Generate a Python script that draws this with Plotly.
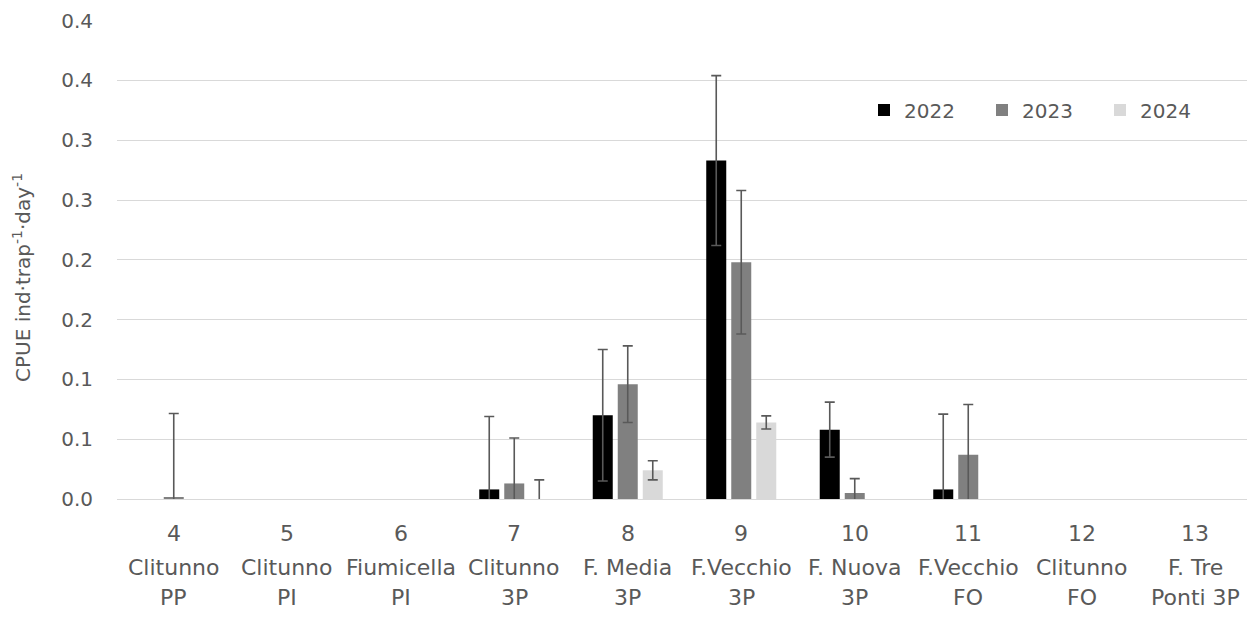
import plotly.graph_objects as go

# ---- data ----
site_numbers = ["4", "5", "6", "7", "8", "9", "10", "11", "12", "13"]
site_names = ["Clitunno", "Clitunno", "Fiumicella", "Clitunno", "F. Media",
              "F.Vecchio", "F. Nuova", "F.Vecchio", "Clitunno", "F. Tre"]
site_codes = ["PP", "PI", "PI", "3P", "3P", "3P", "3P", "FO", "FO", "Ponti 3P"]

years = ["2022", "2023", "2024"]
cpue_2022 = [None, None, None, 0.008, 0.070, 0.283, 0.058, 0.008, None, None]
err_2022 = [None, None, None, 0.061, 0.055, 0.071, 0.023, 0.063, None, None]
cpue_2023 = [0.0015, None, None, 0.013, 0.096, 0.198, 0.005, 0.037, None, None]
err_2023 = [0.070, None, None, 0.038, 0.032, 0.060, 0.012, 0.042, None, None]
cpue_2024 = [None, None, None, 0, 0.024, 0.064, None, None, None, None]
err_2024 = [None, None, None, 0.016, 0.008, 0.0055, None, None, None, None]

tick_values = [0, 0.05, 0.10, 0.15, 0.20, 0.25, 0.30, 0.35, 0.40]
tick_labels = ["0.0", "0.1", "0.1", "0.2", "0.2", "0.3", "0.3", "0.4", "0.4"]

y_title = "CPUE ind·trap<sup>-1</sup>·day<sup>-1</sup>"

# ---- styles ----
colors = ["#000000", "#808080", "#d9d9d9"]
text_color = "#595959"
font_family = "DejaVu Sans, Liberation Sans, Arial, sans-serif"

series_vals = [cpue_2022, cpue_2023, cpue_2024]
series_errs = [err_2022, err_2023, err_2024]

fig = go.Figure()
for name, vals, errs, col in zip(years, series_vals, series_errs, colors):
    fig.add_trace(go.Bar(
        x=site_numbers, y=vals, name=name,
        marker=dict(color=col, line=dict(width=0)),
        error_y=dict(type="data", array=errs, visible=True,
                     color=text_color, thickness=1.6, width=5),
    ))

# x labels as three rows under each category (x given as category index)
annots = []
for i, (num, nm, code) in enumerate(zip(site_numbers, site_names, site_codes)):
    for txt, shift in ((num, -34), (nm, -68), (code, -98)):
        annots.append(dict(x=i, xref="x", y=0, yref="paper", yshift=shift,
                           text=txt, showarrow=False, yanchor="middle",
                           xanchor="center",
                           font=dict(size=22, color=text_color, family=font_family)))
# y axis title
annots.append(dict(x=0, xref="paper", xshift=-95, y=(499 - 278) / 479, yref="paper",
                   text=y_title, textangle=-90, showarrow=False,
                   xanchor="center", yanchor="middle",
                   font=dict(size=20, color=text_color, family=font_family)))

fig.update_layout(
    width=1255, height=617,
    margin=dict(l=109, r=11, t=12, b=126, autoexpand=False),
    paper_bgcolor="white", plot_bgcolor="white",
    barmode="group", bargap=0.339, bargroupgap=0.2,
    font=dict(family=font_family, color=text_color),
    showlegend=True,
    legend=dict(orientation="h", x=(864 - 117) / 1135, xanchor="left",
                y=(499 - 110) / 479, yanchor="middle",
                entrywidth=73, entrywidthmode="pixels",
                font=dict(size=20, color=text_color, family=font_family),
                bgcolor="rgba(0,0,0,0)"),
    annotations=annots,
    xaxis=dict(type="category", range=[-0.5, 9.5], showticklabels=False, ticks="",
               showline=True, linecolor="#d9d9d9", linewidth=1.3,
               showgrid=False),
    yaxis=dict(range=[0, 0.4005], tickvals=tick_values, ticktext=tick_labels,
               showgrid=True, gridcolor="#d9d9d9", gridwidth=1.3,
               zeroline=False, ticks="", ticklabelstandoff=23,
               tickfont=dict(size=20, color=text_color, family=font_family)),
)

fig.write_html("out.html")
